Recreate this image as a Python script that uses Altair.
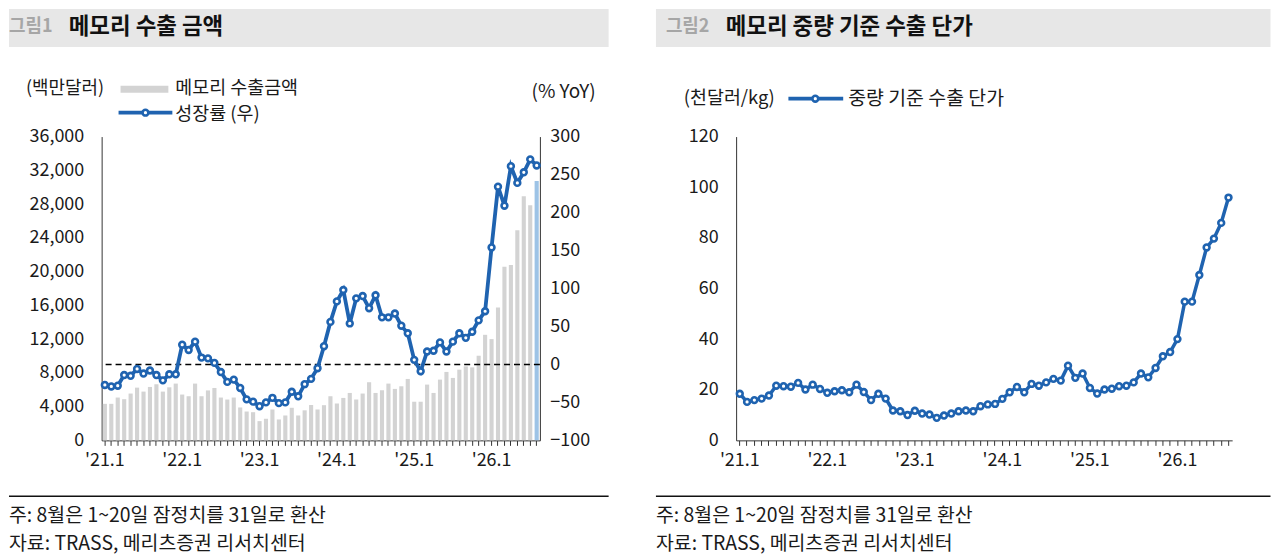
import altair as alt
import pandas as pd

# monthly categories '21.1 .. '26.8
months = [f"{y}-{m:02d}" for y in range(2021, 2027) for m in range(1, 13)][:68]

# memory export amount (USD mn)
export_amount = [
    4330, 4330, 5075, 4880, 5550, 6250, 5780, 6330, 6650, 5780, 6290, 6730,
    5430, 5230, 6730, 5230, 5920, 6210, 5075, 4840, 5075, 3900, 3420, 3340,
    2280, 2560, 3660, 2480, 2950, 3860, 2950, 3560, 4190, 3660, 4170, 5230,
    4370, 5030, 5620, 4840, 5550, 6890, 5620, 5940, 6730, 6100, 6410, 7280,
    4580, 4580, 6610, 5620, 7200, 8110, 7400, 8380, 8770, 8650, 10030, 12510,
    12000, 15740, 20580, 20770, 24900, 28920, 27860, 30730,
]
# growth rate (% YoY, right axis)
export_yoy = [
    -27, -29, -28, -14, -15, -6, -12, -8, -14, -21, -13, -13,
    26, 19, 30, 9, 8, 2, -10, -23, -20, -31, -46, -49,
    -55, -50, -44, -51, -50, -36, -42, -26, -19, -5, 24, 56,
    83, 98, 54, 87, 90, 74, 91, 62, 62, 67, 51, 41,
    6, -9, 17, 18, 29, 17, 30, 41, 35, 43, 58, 70,
    154, 234, 209, 261, 239, 253, 270, 262,
]
# export unit price by weight (thousand USD/kg)
unit_price = [
    18.4, 15.2, 15.9, 16.5, 17.7, 21.6, 21.4, 21.2, 22.7, 20.1, 22.0, 20.3,
    18.8, 19.4, 19.8, 19.0, 22.0, 19.1, 15.9, 18.4, 16.5, 11.8, 11.5, 10.0,
    11.7, 10.6, 10.2, 8.9, 9.8, 10.6, 11.5, 11.8, 11.5, 13.5, 14.2, 14.4,
    16.4, 19.0, 21.1, 19.0, 22.3, 21.6, 22.9, 24.3, 23.6, 29.5, 24.7, 26.4,
    20.7, 18.5, 20.1, 20.4, 21.4, 21.6, 22.9, 26.4, 24.9, 28.6, 33.2, 34.9,
    40.0, 54.8, 54.8, 65.3, 76.2, 79.7, 85.9, 95.9,
]

left_ticks = list(range(0, 36001, 4000))
yoy_ticks = list(range(-100, 301, 50))
price_ticks = list(range(0, 121, 20))

df = pd.DataFrame({"month": months, "amount": export_amount,
                   "yoy": export_yoy, "price": unit_price})
one = pd.DataFrame({"z": [0]})

FONT = "Noto Sans CJK KR"
BLUE = "#1f63b0"
AXIS = "#333333"
INK = "#1a1a1a"

jan_only = "slice(datum.value, 5) == '01' ? \"'\" + slice(datum.value, 2, 4) + '.1' : ''"


def x_axis():
    return alt.Axis(title=None, labelExpr=jan_only, labelAngle=0, labelOverlap=False,
                    labelFont=FONT, labelFontSize=18, labelColor=INK, labelPadding=6,
                    tickSize=5, tickColor=AXIS, domainColor=AXIS, grid=False)


def y_axis(orient, values, pad):
    return alt.Axis(orient=orient, values=values, title=None, grid=False, ticks=False,
                    labelPadding=pad, labelFont=FONT, labelFontSize=18, labelColor=INK,
                    domainColor=AXIS)


def text(s, x, y, size=18, color=INK, weight="normal", align="left"):
    return alt.Chart(one).mark_text(
        text=s, font=FONT, fontSize=size, color=color, fontWeight=weight,
        align=align, baseline="middle",
    ).encode(x=alt.value(x), y=alt.value(y))


def box(x, x2, y, y2, color):
    return alt.Chart(one).mark_rect(color=color).encode(
        x=alt.value(x), x2=alt.value(x2), y=alt.value(y), y2=alt.value(y2))


def hline(x, x2, y, color, width):
    return alt.Chart(one).mark_rule(color=color, strokeWidth=width).encode(
        x=alt.value(x), x2=alt.value(x2), y=alt.value(y))


def dot(x, y):
    return alt.Chart(one).mark_point(shape="circle", filled=True, fill="white",
                                     stroke=BLUE, strokeWidth=2.6, size=34, opacity=1).encode(
        x=alt.value(x), y=alt.value(y))


point_marker = alt.OverlayMarkDef(filled=True, fill="white", stroke=BLUE, strokeWidth=2.6, size=34)

# ---- left panel: export amount bars + yoy line
bars = alt.Chart(df).mark_bar().encode(
    x=alt.X("month:O", scale=alt.Scale(type="band", paddingInner=0.36, paddingOuter=0.18),
            axis=x_axis()),
    y=alt.Y("amount:Q", scale=alt.Scale(domain=[0, 36000], nice=False),
            axis=y_axis("left", left_ticks, 18)),
    color=alt.condition(alt.datum.month == months[-1], alt.value("#9dc3e6"), alt.value("#d3d3d3")),
)

zero_rule = alt.Chart(one).mark_rule(color="black", strokeWidth=1.5, strokeDash=[6, 4]).encode(
    y=alt.Y("z:Q", scale=alt.Scale(domain=[-100, 300], nice=False), axis=None)
)

yoy_line = alt.Chart(df).mark_line(color=BLUE, strokeWidth=3.8, point=point_marker).encode(
    x=alt.X("month:O", scale=alt.Scale(type="point", padding=0.5), axis=None),
    y=alt.Y("yoy:Q", scale=alt.Scale(domain=[-100, 300], nice=False),
            axis=y_axis("right", yoy_ticks, 10)),
)

left_decor = [
    box(-93, 509, -128, -90, "#e7e7e7"),
    text("그림1", -93, -110, 18, "#a6a6a6", "bold"),
    text("메모리 수출 금액", -33, -110, 22.5, "#111111", "bold"),
    text("(백만달러)", -76, -48, 18),
    box(19, 67, -51, -44, "#d3d3d3"),
    text("메모리 수출금액", 74, -49, 18.5),
    hline(17, 71, -24, BLUE, 3.8),
    dot(44, -24),
    text("성장률 (우)", 74, -23, 18.5),
    text("(% YoY)", 496, -45, 19, align="right"),
    hline(-93, 509, 361, "#111111", 1.5),
    text("주: 8월은 1~20일 잠정치를 31일로 환산", -93, 381, 19.5),
    text("자료: TRASS, 메리츠증권 리서치센터", -93, 409, 19.5),
]

left = (
    alt.layer(bars, zero_rule, yoy_line, *left_decor)
    .resolve_scale(x="independent", y="independent")
    .properties(width=440, height=305)
)

# ---- right panel: unit price line
price_band = alt.Chart(df).mark_bar(opacity=0).encode(
    x=alt.X("month:O", scale=alt.Scale(type="band", paddingInner=0, paddingOuter=0),
            axis=x_axis()),
)

price_line = alt.Chart(df).mark_line(color=BLUE, strokeWidth=3.5, point=point_marker).encode(
    x=alt.X("month:O", scale=alt.Scale(type="point", padding=0.5), axis=None),
    y=alt.Y("price:Q", scale=alt.Scale(domain=[0, 120], nice=False),
            axis=y_axis("left", price_ticks, 18)),
)

right_decor = [
    box(-80.5, 536.5, -128, -90, "#e7e7e7"),
    text("그림2", -70.5, -110, 18, "#a6a6a6", "bold"),
    text("메모리 중량 기준 수출 단가", -10.5, -110, 22.5, "#111111", "bold"),
    text("(천달러/kg)", -52.5, -39, 18.5),
    hline(52.5, 107.5, -38, BLUE, 3.8),
    dot(79.5, -38),
    text("중량 기준 수출 단가", 112.5, -38, 19.5),
    hline(-80.5, 536.5, 361, "#111111", 1.5),
    text("주: 8월은 1~20일 잠정치를 31일로 환산", -80.5, 381, 19.5),
    text("자료: TRASS, 메리츠증권 리서치센터", -80.5, 409, 19.5),
]

right = (
    alt.layer(price_band, price_line, *right_decor)
    .resolve_scale(x="independent")
    .properties(width=498, height=305)
)

chart = (
    alt.hconcat(left, right, spacing=45)
    .properties(padding=0)
    .configure_view(strokeWidth=0)
)

chart.save("out.html", embed_options={"renderer": "svg", "actions": False})
